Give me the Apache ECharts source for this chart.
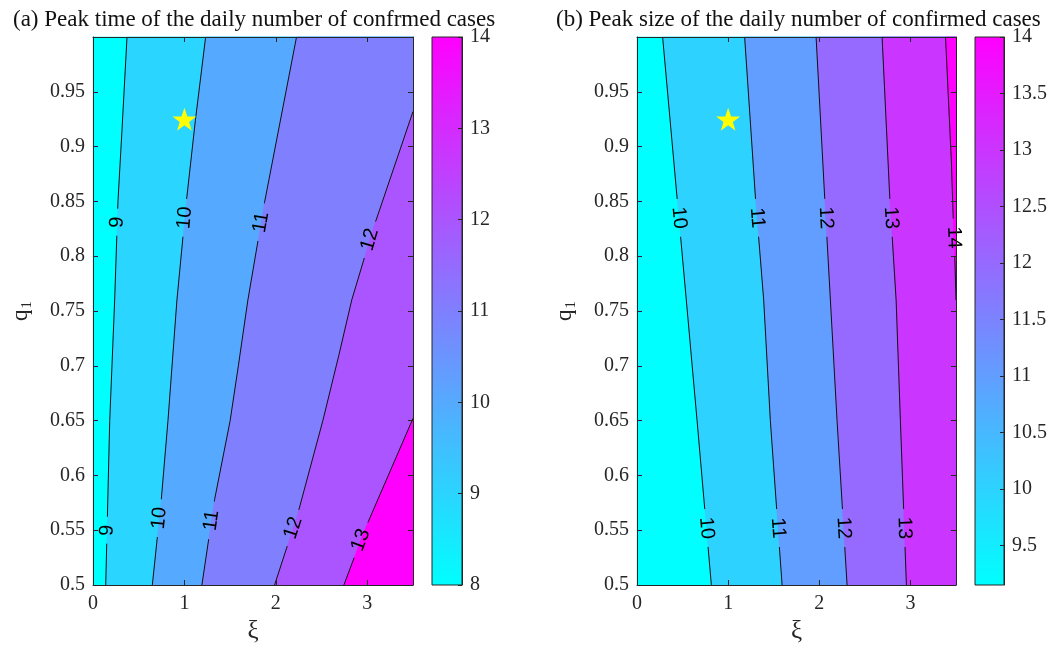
<!DOCTYPE html>
<html>
<head>
<meta charset="utf-8">
<script src="https://cdn.jsdelivr.net/npm/echarts@6/dist/echarts.min.js"></script>
<style>
  html, body { margin: 0; padding: 0; background: #ffffff; }
  #chart { width: 1050px; height: 649px; }
</style>
</head>
<body>
<div id="chart"></div>
<script>
// ---- axis ticks ----
const xiTicks = [0, 1, 2, 3];
const qTicks = [0.5, 0.55, 0.6, 0.65, 0.7, 0.75, 0.8, 0.85, 0.9, 0.95];
const timeBarTicks = [8, 9, 10, 11, 12, 13, 14];
const sizeBarTicks = [9.5, 10, 10.5, 11, 11.5, 12, 12.5, 13, 13.5, 14];
const timeBarRange = [8, 14];
const sizeBarRange = [9.15, 14];

// baseline parameter pair (xi, q1)
const starPoint = [1, 0.925];

// ---- (a) peak time: contour levels and their iso-lines as [xi, q1] ----
const timeLevels = [9, 10, 11, 12, 13];
const timeContours = [
  [[0.139, 0.5], [0.183, 0.65], [0.237, 0.76], [0.273, 0.85], [0.317, 0.915], [0.372, 1.0]],
  [[0.649, 0.5], [0.747, 0.578], [0.82, 0.65], [0.918, 0.76], [1.02, 0.849], [1.12, 0.924], [1.232, 1.0]],
  [[1.191, 0.5], [1.33, 0.578], [1.5, 0.65], [1.59, 0.7], [1.694, 0.76], [1.876, 0.849], [2.226, 1.0]],
  [[1.986, 0.5], [2.24, 0.565], [2.514, 0.65], [2.69, 0.71], [2.83, 0.76], [3.06, 0.824], [3.5, 0.932]],
  [[2.744, 0.5], [2.97, 0.55], [3.5, 0.652]]
];
const timeLabelQ = [[0.831, 0.55], [0.835, 0.561], [0.831, 0.559], [0.815, 0.552], [0.541]];

// ---- (b) peak size ----
const sizeLevels = [10, 11, 12, 13, 14];
const sizeContours = [
  [[0.816, 0.5], [0.659, 0.65], [0.541, 0.76], [0.439, 0.854], [0.281, 1.0]],
  [[1.592, 0.5], [1.463, 0.65], [1.39, 0.76], [1.299, 0.854], [1.181, 1.0]],
  [[2.305, 0.5], [2.195, 0.65], [2.122, 0.76], [2.059, 0.854], [1.965, 1.0]],
  [[2.956, 0.5], [2.89, 0.65], [2.843, 0.76], [2.773, 0.854], [2.689, 1.0]],
  [[3.5, 0.76], [3.49, 0.79], [3.475, 0.82], [3.45, 0.885], [3.385, 1.0]]
];
const sizeLabelQ = [[0.835, 0.552], [0.835, 0.552], [0.835, 0.552], [0.835, 0.552], [0.817]];

// ---- styles ----
const timeBandColors = ['#00ffff', '#2ad5ff', '#55aaff', '#8080ff', '#aa55ff', '#ff00ff'];
const sizeBandColors = ['#00ffff', '#2dd2ff', '#619eff', '#9669ff', '#ca35ff', '#ff00ff'];
const AXIS_COLOR = '#262626';
const SERIF = '"Liberation Serif", "Times New Roman", serif';
const SANS = '"Liberation Sans", Arial, sans-serif';
const XI_RANGE = [0, 3.5];
const Q_RANGE = [0.5, 1.0];

const fmt = v => String(+(+v).toFixed(2));

// Filled bands: base colour over the whole box, then each level paints the
// region on its high-value side (towards larger xi) on top of the previous one.
function fillRenderer(contours, colors) {
  return function (params, api) {
    const i = params.dataIndex;
    let poly;
    if (i === 0) {
      poly = [[XI_RANGE[0], Q_RANGE[0]], [XI_RANGE[1], Q_RANGE[0]], [XI_RANGE[1], Q_RANGE[1]], [XI_RANGE[0], Q_RANGE[1]]];
    } else {
      const c = contours[i - 1];
      poly = c.concat([[XI_RANGE[1], c[c.length - 1][1]], [XI_RANGE[1], c[0][1]]]);
    }
    return {
      type: 'polygon',
      shape: { points: poly.map(p => api.coord(p)) },
      style: { fill: colors[i], stroke: colors[i], lineWidth: 0.5 }
    };
  };
}

function slicePolyline(px, s, a, b) {
  const out = [];
  const at = d => {
    for (let k = 1; k < px.length; k++) {
      if (d <= s[k] || k === px.length - 1) {
        const t = (s[k] - s[k - 1]) > 0 ? (d - s[k - 1]) / (s[k] - s[k - 1]) : 0;
        return [px[k - 1][0] + t * (px[k][0] - px[k - 1][0]), px[k - 1][1] + t * (px[k][1] - px[k - 1][1])];
      }
    }
    return px[px.length - 1];
  };
  out.push(at(a));
  for (let k = 0; k < px.length; k++) if (s[k] > a && s[k] < b) out.push(px[k]);
  out.push(at(b));
  return out;
}

// Iso-lines with inline level labels; the line is broken where a label sits.
function lineRenderer(contours, labelQs, levels) {
  return function (params, api) {
    const i = params.dataIndex;
    const pts = contours[i];
    const px = pts.map(p => api.coord(p));
    const s = [0];
    for (let k = 1; k < px.length; k++) {
      s.push(s[k - 1] + Math.hypot(px[k][0] - px[k - 1][0], px[k][1] - px[k - 1][1]));
    }
    const text = String(levels[i]);
    const half = text.length * 5.5 + 8;
    const children = [];
    const gaps = [];
    labelQs[i].forEach(q => {
      for (let k = 1; k < pts.length; k++) {
        const q0 = pts[k - 1][1], q1 = pts[k][1];
        if (q0 !== q1 && (q - q0) * (q - q1) <= 0) {
          const t = (q - q0) / (q1 - q0);
          const x = px[k - 1][0] + t * (px[k][0] - px[k - 1][0]);
          const y = px[k - 1][1] + t * (px[k][1] - px[k - 1][1]);
          let ang = Math.atan2(-(px[k][1] - px[k - 1][1]), px[k][0] - px[k - 1][0]);
          if (ang > Math.PI / 2) ang -= Math.PI;
          if (ang < -Math.PI / 2) ang += Math.PI;
          children.push({
            type: 'text', x: x, y: y, rotation: ang, z2: 5,
            style: { text: text, x: 0, y: 0, fill: '#000000', font: '20px ' + SANS, align: 'center', verticalAlign: 'middle' }
          });
          const sc = s[k - 1] + t * (s[k] - s[k - 1]);
          gaps.push([sc - half, sc + half]);
          break;
        }
      }
    });
    gaps.sort((a, b) => a[0] - b[0]);
    const total = s[s.length - 1];
    let start = 0;
    const ranges = [];
    gaps.forEach(g => {
      if (g[0] > start) ranges.push([start, Math.min(g[0], total)]);
      start = Math.max(start, g[1]);
    });
    if (start < total) ranges.push([start, total]);
    ranges.forEach(r => {
      children.push({
        type: 'polyline',
        shape: { points: slicePolyline(px, s, r[0], r[1]) },
        style: { stroke: '#111111', lineWidth: 1, fill: 'none' }
      });
    });
    return { type: 'group', children: children };
  };
}

function colorbarRenderer(range) {
  return function (params, api) {
    const p0 = api.coord([0, range[1]]);
    const p1 = api.coord([1, range[0]]);
    return {
      type: 'rect',
      shape: { x: p0[0], y: p0[1], width: p1[0] - p0[0], height: p1[1] - p0[1] },
      style: {
        fill: new echarts.graphic.LinearGradient(0, 1, 0, 0, [
          { offset: 0, color: '#00ffff' }, { offset: 1, color: '#ff00ff' }
        ]),
        stroke: AXIS_COLOR, lineWidth: 1
      }
    };
  };
}

const tickLabelStyle = { fontFamily: SERIF, fontSize: 20, color: AXIS_COLOR };

function plotAxes(g) {
  const xs = [
    {
      gridIndex: g, type: 'value', min: XI_RANGE[0], max: XI_RANGE[1], position: 'bottom', z: 10,
      axisLine: { show: true, onZero: false, lineStyle: { color: AXIS_COLOR, width: 1 } },
      axisTick: { show: true, inside: true, length: 5, customValues: xiTicks, lineStyle: { color: AXIS_COLOR } },
      axisLabel: Object.assign({ customValues: xiTicks, margin: 9, formatter: fmt }, tickLabelStyle),
      splitLine: { show: false },
      name: 'ξ', nameLocation: 'middle', nameGap: 34,
      nameTextStyle: { fontFamily: SERIF, fontSize: 25, color: AXIS_COLOR }
    },
    {
      gridIndex: g, type: 'value', min: XI_RANGE[0], max: XI_RANGE[1], position: 'top', z: 10,
      axisLine: { show: true, onZero: false, lineStyle: { color: AXIS_COLOR, width: 1 } },
      axisTick: { show: true, inside: true, length: 5, customValues: xiTicks, lineStyle: { color: AXIS_COLOR } },
      axisLabel: { show: false }, splitLine: { show: false }
    }
  ];
  const ys = [
    {
      gridIndex: g, type: 'value', min: Q_RANGE[0], max: Q_RANGE[1], position: 'left', z: 10,
      axisLine: { show: true, onZero: false, lineStyle: { color: AXIS_COLOR, width: 1 } },
      axisTick: { show: true, inside: true, length: 5, customValues: qTicks, lineStyle: { color: AXIS_COLOR } },
      axisLabel: Object.assign({ customValues: qTicks, margin: 8, formatter: fmt }, tickLabelStyle),
      splitLine: { show: false },
      name: '{q|q}{s|1}', nameLocation: 'middle', nameGap: 58, nameRotate: 90,
      nameTextStyle: {
        color: AXIS_COLOR,
        rich: {
          q: { fontFamily: SERIF, fontSize: 23, color: AXIS_COLOR },
          s: { fontFamily: SERIF, fontSize: 15, color: AXIS_COLOR, padding: [14, 0, 0, 1] }
        }
      }
    },
    {
      gridIndex: g, type: 'value', min: Q_RANGE[0], max: Q_RANGE[1], position: 'right', z: 10,
      axisLine: { show: true, onZero: false, lineStyle: { color: AXIS_COLOR, width: 1 } },
      axisTick: { show: true, inside: true, length: 5, customValues: qTicks, lineStyle: { color: AXIS_COLOR } },
      axisLabel: { show: false }, splitLine: { show: false }
    }
  ];
  return { xs, ys };
}

function barAxes(g, range, ticks) {
  return {
    x: { gridIndex: g, type: 'value', min: 0, max: 1, show: false },
    y: {
      gridIndex: g, type: 'value', min: range[0], max: range[1], position: 'right', z: 10,
      axisLine: { show: true, onZero: false, lineStyle: { color: AXIS_COLOR, width: 1 } },
      axisTick: { show: true, inside: true, length: 4, customValues: ticks, lineStyle: { color: AXIS_COLOR } },
      axisLabel: Object.assign({ customValues: ticks, margin: 8, formatter: fmt }, tickLabelStyle),
      splitLine: { show: false }
    }
  };
}

const pa = plotAxes(0), pb = plotAxes(1);
const ca = barAxes(2, timeBarRange, timeBarTicks), cb = barAxes(3, sizeBarRange, sizeBarTicks);

// x axes: 0 a-bottom, 1 a-top, 2 b-bottom, 3 b-top, 4 bar a, 5 bar b
// y axes: 0 a-left, 1 a-right, 2 b-left, 3 b-right, 4 bar a, 5 bar b
const xAxis = pa.xs.concat(pb.xs, [ca.x, cb.x]);
const yAxis = pa.ys.concat(pb.ys, [ca.y, cb.y]);

const STAR = 'path://M50,0 L61.8,35.1 L98.1,35.1 L68.8,56.7 L79.4,91.9 L50,70.3 L20.6,91.9 L31.2,56.7 L1.9,35.1 L38.2,35.1 Z';

function plotSeries(xi, yi, contours, labelQs, levels, colors) {
  return [
    {
      type: 'custom', coordinateSystem: 'cartesian2d', xAxisIndex: xi, yAxisIndex: yi, z: 1, silent: true,
      renderItem: fillRenderer(contours, colors),
      data: [[0, 0.5]].concat(contours.map(c => c[0]))
    },
    {
      type: 'custom', coordinateSystem: 'cartesian2d', xAxisIndex: xi, yAxisIndex: yi, z: 2, silent: true,
      renderItem: lineRenderer(contours, labelQs, levels),
      data: contours.map(c => c[0])
    },
    {
      type: 'scatter', xAxisIndex: xi, yAxisIndex: yi, z: 3, silent: true,
      symbol: STAR, symbolSize: [24, 23],
      itemStyle: { color: '#ffff00', opacity: 1 },
      data: [starPoint]
    }
  ];
}

const series = []
  .concat(plotSeries(0, 0, timeContours, timeLabelQ, timeLevels, timeBandColors))
  .concat(plotSeries(2, 2, sizeContours, sizeLabelQ, sizeLevels, sizeBandColors))
  .concat([
    { type: 'custom', coordinateSystem: 'cartesian2d', xAxisIndex: 4, yAxisIndex: 4, z: 1, silent: true,
      renderItem: colorbarRenderer(timeBarRange), data: [[0, timeBarRange[0]]] },
    { type: 'custom', coordinateSystem: 'cartesian2d', xAxisIndex: 5, yAxisIndex: 5, z: 1, silent: true,
      renderItem: colorbarRenderer(sizeBarRange), data: [[0, sizeBarRange[0]]] }
  ]);

const titleStyle = { fontFamily: SERIF, fontSize: 23, fontWeight: 'normal', color: '#111111' };

const chart = echarts.init(document.getElementById('chart'), null, { renderer: 'canvas' });
chart.setOption({
  animation: false,
  backgroundColor: '#ffffff',
  title: [
    { text: '(a) Peak time of the daily number of confrmed cases', left: 8, top: 3, textStyle: titleStyle },
    { text: '(b) Peak size of the daily number of confirmed cases', left: 551, top: 3, textStyle: titleStyle }
  ],
  grid: [
    { left: 93, top: 37, width: 320, height: 548 },
    { left: 637, top: 37, width: 319, height: 548 },
    { left: 432, top: 37, width: 30, height: 548 },
    { left: 975, top: 37, width: 31, height: 548 }
  ],
  xAxis: xAxis,
  yAxis: yAxis,
  series: series
});
</script>
</body>
</html>
